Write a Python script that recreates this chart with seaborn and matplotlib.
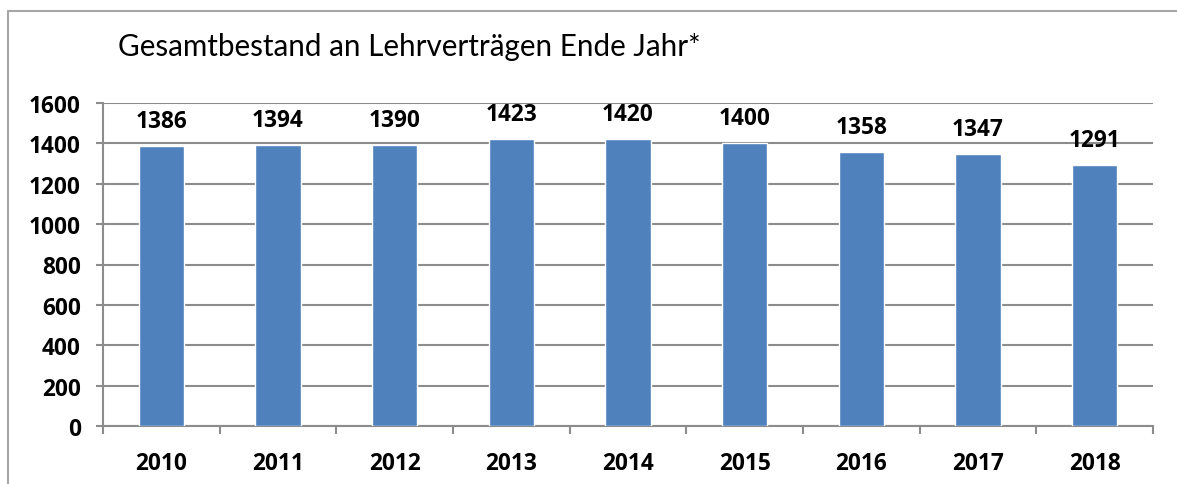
import matplotlib
matplotlib.use("Agg")
import matplotlib.pyplot as plt
import seaborn as sns
import pandas as pd
import numpy as np
from matplotlib.lines import Line2D
from matplotlib.ticker import FixedLocator

years = ["2010", "2011", "2012", "2013", "2014", "2015", "2016", "2017", "2018"]
values = [1386, 1394, 1390, 1423, 1420, 1400, 1358, 1347, 1291]
yticks = [0, 200, 400, 600, 800, 1000, 1200, 1400, 1600]
title = "Gesamtbestand an Lehrverträgen Ende Jahr*"

sns.set_theme(style="white")
plt.rcParams['font.family'] = ['Lato', 'DejaVu Sans']
BOLD = ['Open Sans', 'DejaVu Sans']
FS = 16.3

W, H = 1177, 485
fig = plt.figure(figsize=(W / 100, H / 100), dpi=100)
ax = fig.add_axes([103 / W, 1 - 427 / H, (1153 - 103) / W, (427 - 104) / H])

df = pd.DataFrame({"Jahr": years, "Wert": values})
sns.barplot(data=df, x="Jahr", y="Wert", color="#4F81BD", saturation=1,
            width=0.39, ax=ax, zorder=3)

ax.set_ylim(0, 1600)
ax.set_xlim(-0.5, len(years) - 0.5)
ax.set_yticks(yticks)
ax.set_yticklabels([str(t) for t in yticks], fontsize=FS, fontweight='bold',
                   family=BOLD)
ax.set_xticks(range(len(years)))
ax.set_xticklabels(years, fontsize=FS, fontweight='bold', family=BOLD)
ax.set_xlabel("")
ax.set_ylabel("")

ax.yaxis.grid(True, color="#8c8c8c", linewidth=1.5, zorder=0)
ax.set_axisbelow(True)
for s in ["top", "right"]:
    ax.spines[s].set_visible(False)
for s in ["left", "bottom"]:
    ax.spines[s].set_color("#8c8c8c")
    ax.spines[s].set_linewidth(1.5)

ax.tick_params(axis='y', which='major', left=True, length=5, width=1.5,
               color="#8c8c8c", pad=11, labelcolor='black')
ax.tick_params(axis='x', which='major', bottom=False, length=0, pad=18,
               labelcolor='black')
ax.xaxis.set_minor_locator(FixedLocator(np.arange(-0.5, len(years), 1.0)))
ax.tick_params(axis='x', which='minor', bottom=True, length=6, width=1.5,
               color="#8c8c8c", direction='out')

for i, v in enumerate(values):
    ax.annotate(str(v), (i, v), xytext=(0, 18), textcoords='offset points',
                ha='center', va='center', fontsize=FS, fontweight='bold',
                family=BOLD, color='black')

fig.text(118 / W, 1 - 47 / H, title, ha='left', va='center', fontsize=21.3,
         color='black')

bx = 7.5 / W
by = 1 - 11.5 / H
fig.add_artist(Line2D([bx, bx], [0, by], transform=fig.transFigure,
                      color="#a6a6a6", linewidth=1.5))
fig.add_artist(Line2D([bx, 1], [by, by], transform=fig.transFigure,
                      color="#a6a6a6", linewidth=1.5))

fig.savefig("out.png", dpi=100)
